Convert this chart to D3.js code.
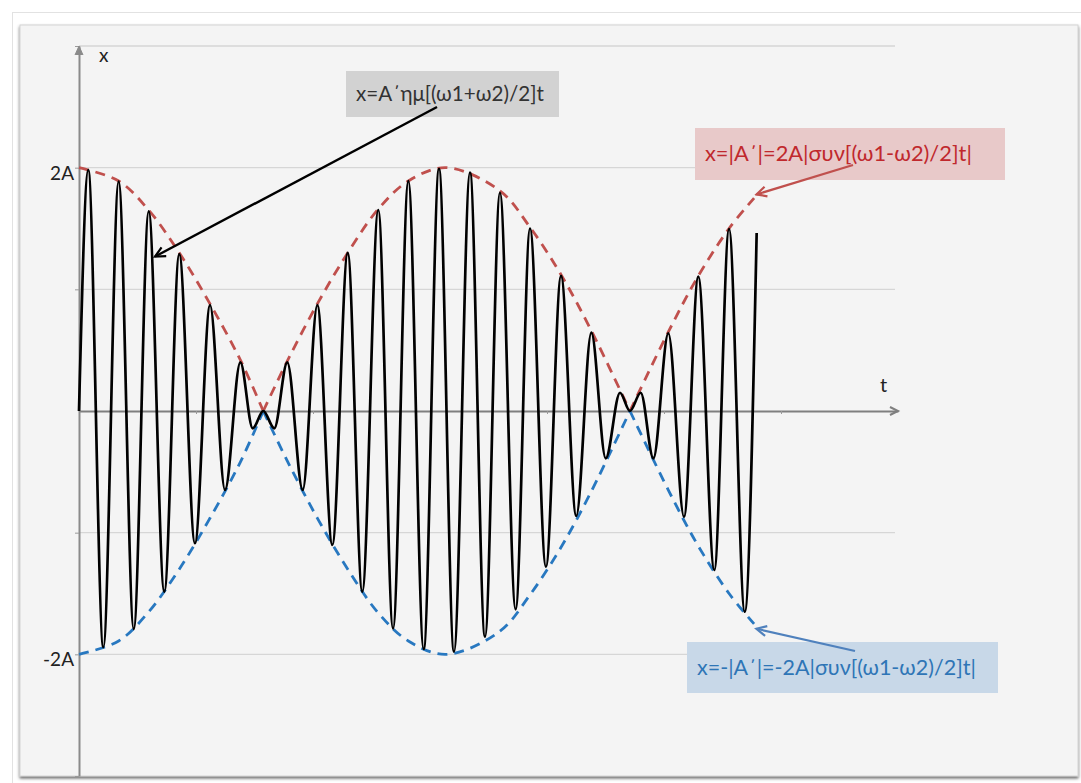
<!DOCTYPE html>
<meta charset="utf-8">
<title>Διακρότημα</title>
<style>
  body { margin: 0; background: #fff; }
  svg { display: block; font-family: Lato, "Open Sans", sans-serif; }
</style>
<body>
<div id="chart"></div>
<script src="https://d3js.org/d3.v7.min.js"></script>
<script>

// ακρότατα της ταλάντωσης, διαβασμένα από το σχήμα (t σε υποδιαιρέσεις, x σε μονάδες A)
var carrierT = [0, 0.079, 0.208, 0.339, 0.468, 0.596, 0.729, 0.857, 0.991, 1.120, 1.248, 1.379, 1.485, 1.575,
  1.669, 1.780, 1.912, 2.037, 2.165, 2.297, 2.421, 2.558, 2.684, 2.815, 2.946, 3.077, 3.205, 3.342,
  3.470, 3.598, 3.732, 3.855, 3.991, 4.120, 4.250, 4.379, 4.502, 4.624, 4.709, 4.801, 4.909, 5.037,
  5.171, 5.293, 5.430, 5.556, 5.690, 5.792];
var carrierX = [0, 1.98, -1.94, 1.885, -1.79, 1.64, -1.485, 1.29, -1.087, 0.871, -0.649, 0.40, -0.142, 0,
  -0.142, 0.40, -0.649, 0.871, -1.10, 1.30, -1.485, 1.652, -1.786, 1.89, -1.956, 1.99, -1.977, 1.96,
  -1.855, 1.794, -1.63, 1.50, -1.28, 1.11, -0.863, 0.644, -0.389, 0.150, 0, 0.150, -0.389, 0.639,
  -0.869, 1.104, -1.307, 1.496, -1.65, 1.463];

// περιβάλλουσα |A'| (η κάτω είναι η συμμετρική της)
var envT = [0, 0.339, 0.596, 0.857, 1.120, 1.379, 1.575, 1.780, 2.037, 2.297, 2.558, 2.815, 3.14,
  3.598, 3.855, 4.120, 4.379, 4.709, 5.037, 5.293, 5.556, 5.77];
var envX = [2.0, 1.89, 1.65, 1.30, 0.88, 0.42, 0, 0.41, 0.88, 1.30, 1.66, 1.89, 2.0,
  1.81, 1.51, 1.12, 0.66, 0, 0.65, 1.11, 1.50, 1.75];

var gridValues = [3, 2, 1, -1, -2];
var yTickValues = [3, 2, 1, -1, -2, -3];
var yTickLabels = {"2": "2A", "-2": "-2A"};
var tTicks = [1, 2, 3, 4, 5, 6];

var labelCarrier = "x=A΄ημ[(ω1+ω2)/2]t";
var labelUpper = "x=|A΄|=2A|συν[(ω1-ω2)/2]t|";
var labelLower = "x=-|A΄|=-2A|συν[(ω1-ω2)/2]t|";

// διαστάσεις
var W = 1081, H = 783;

var svg = d3.select("#chart").append("svg")
    .attr("width", W)
    .attr("height", H);

var defs = svg.append("defs");
defs.append("filter").attr("id", "shadow")
    .attr("x", "-5%").attr("y", "-5%").attr("width", "110%").attr("height", "110%")
  .append("feDropShadow")
    .attr("dx", 0).attr("dy", 2).attr("stdDeviation", 1.5)
    .attr("flood-color", "#444").attr("flood-opacity", 0.8);

function marker(id, color) {
  defs.append("marker")
      .attr("id", id)
      .attr("viewBox", "-12 -7 14 14")
      .attr("refX", 0).attr("refY", 0)
      .attr("markerWidth", 14).attr("markerHeight", 14)
      .attr("markerUnits", "userSpaceOnUse")
      .attr("orient", "auto-start-reverse")
    .append("path")
      .attr("d", "M-10,-5L0,0L-10,5")
      .attr("fill", "none")
      .attr("stroke", color)
      .attr("stroke-width", 2.2);
}
marker("arrBlack", "#000");
marker("arrRed", "#c0504d");
marker("arrBlue", "#4f81bd");

// πλαίσιο
svg.append("rect")
    .attr("x", 12.5).attr("y", 12.5).attr("width", W).attr("height", H)
    .attr("fill", "#fff").attr("stroke", "#e2e2e2");
svg.append("rect")
    .attr("x", 20).attr("y", 25).attr("width", 1058).attr("height", 751)
    .attr("fill", "#f4f4f4")
    .attr("stroke", "#d4d4d4")
    .attr("filter", "url(#shadow)");

// κλίμακες
var x = d3.scaleLinear().domain([0, 7]).range([79, 898]);
var y = d3.scaleLinear().domain([-3, 3]).range([776, 46]);

// γραμμές πλέγματος
svg.append("g").selectAll("line")
    .data(gridValues)
    .join("line")
      .attr("x1", x(0)).attr("x2", 895)
      .attr("y1", d => y(d)).attr("y2", d => y(d))
      .attr("stroke", "#d6d6d6")
      .attr("stroke-width", 1.3);

// άξονας x (t)
var gx = svg.append("g")
    .attr("transform", "translate(0," + y(0) + ")")
    .call(d3.axisBottom(x).tickValues(tTicks).tickSize(3).tickSizeOuter(0).tickFormat(""));
gx.select(".domain").attr("stroke", "#7f7f7f").attr("stroke-width", 2.2);
gx.selectAll(".tick line").attr("stroke", "#9a9a9a");

// άξονας y (x)
var gy = svg.append("g")
    .attr("transform", "translate(" + x(0) + ",0)")
    .call(d3.axisLeft(y).tickValues(yTickValues).tickSize(4).tickSizeOuter(0)
      .tickFormat(d => yTickLabels[d] || ""));
gy.select(".domain").attr("stroke", "#8a8a8a").attr("stroke-width", 2);
gy.selectAll(".tick line").attr("stroke", "#9a9a9a");
gy.selectAll(".tick text")
    .attr("font-family", "Lato, sans-serif")
    .attr("font-size", 19)
    .attr("fill", "#222")
    .attr("dy", "0.6em")
    .attr("x", -5);

// βέλη αξόνων
svg.append("path")
    .attr("d", "M" + (x(7) - 8) + "," + (y(0) - 4) + "L" + x(7) + "," + y(0) + "L" + (x(7) - 8) + "," + (y(0) + 4))
    .attr("fill", "none").attr("stroke", "#7f7f7f").attr("stroke-width", 2);
svg.append("path")
    .attr("d", "M" + (x(0) - 4) + "," + (y(3) + 9) + "L" + x(0) + "," + y(3) + "L" + (x(0) + 4) + "," + (y(3) + 9))
    .attr("fill", "#8a8a8a").attr("stroke", "#8a8a8a").attr("stroke-width", 1);

svg.append("text").attr("x", 99).attr("y", 62)
    .attr("font-size", 19).attr("fill", "#222").text("x");
svg.append("text").attr("x", 880).attr("y", 392)
    .attr("font-size", 20).attr("fill", "#222").text("t");

// περιβάλλουσες: σπάνε στα μηδενικά
var envSegments = [];
var seg = [];
envT.forEach(function(t, i) {
  seg.push([t, envX[i]]);
  if (envX[i] === 0 && seg.length > 1) {
    envSegments.push(seg);
    seg = [[t, 0]];
  }
});
envSegments.push(seg);

var envLine = d3.line()
    .x(d => x(d[0]))
    .y(d => y(d[1]))
    .curve(d3.curveCatmullRom.alpha(0.5));

svg.append("g").selectAll("path")
    .data(envSegments)
    .join("path")
      .attr("d", envLine)
      .attr("fill", "none")
      .attr("stroke", "#c0504d")
      .attr("stroke-width", 2.8)
      .attr("stroke-dasharray", "10,7");

svg.append("g").selectAll("path")
    .data(envSegments.map(s => s.map(p => [p[0], -p[1]])))
    .join("path")
      .attr("d", envLine)
      .attr("fill", "none")
      .attr("stroke", "#2878c0")
      .attr("stroke-width", 2.8)
      .attr("stroke-dasharray", "10,7");

// ταλάντωση
var carrier = carrierT.map((t, i) => [t, carrierX[i]]);
svg.append("path")
    .datum(carrier)
    .attr("d", d3.line().x(d => x(d[0])).y(d => y(d[1])).curve(d3.curveMonotoneX))
    .attr("fill", "none")
    .attr("stroke", "#000")
    .attr("stroke-width", 2.7);

// σχόλια - το μέγεθος γραμματοσειράς προσαρμόζεται στο πλάτος του κειμένου
function box(x0, y0, w, h, fill, txt, color, textW) {
  svg.append("rect")
      .attr("x", x0).attr("y", y0).attr("width", w).attr("height", h)
      .attr("fill", fill);
  var t = svg.append("text")
      .attr("x", x0 + 10)
      .attr("font-size", 20)
      .attr("fill", color)
      .text(txt);
  var fs = 20 * textW / t.node().getComputedTextLength();
  t.attr("font-size", fs).attr("y", y0 + h / 2 + fs * 0.33);
}
box(346, 71, 213, 46, "#d2d2d2", labelCarrier, "#333", 188);
box(695, 128, 310, 52, "#e8c9c9", labelUpper, "#c0282d", 267);
box(687, 642, 311, 51, "#c8d8e8", labelLower, "#2e75b6", 279);

svg.append("line")
    .attr("x1", 437).attr("y1", 107)
    .attr("x2", x(0.65)).attr("y2", y(1.27))
    .attr("stroke", "#000").attr("stroke-width", 2.4)
    .attr("marker-end", "url(#arrBlack)");
svg.append("line")
    .attr("x1", 853).attr("y1", 165)
    .attr("x2", x(5.79)).attr("y2", y(1.78))
    .attr("stroke", "#c0504d").attr("stroke-width", 2.2)
    .attr("marker-end", "url(#arrRed)");
svg.append("line")
    .attr("x1", 855).attr("y1", 651)
    .attr("x2", x(5.79)).attr("y2", y(-1.79))
    .attr("stroke", "#4f81bd").attr("stroke-width", 2.2)
    .attr("marker-end", "url(#arrBlue)");

</script>
</body>
